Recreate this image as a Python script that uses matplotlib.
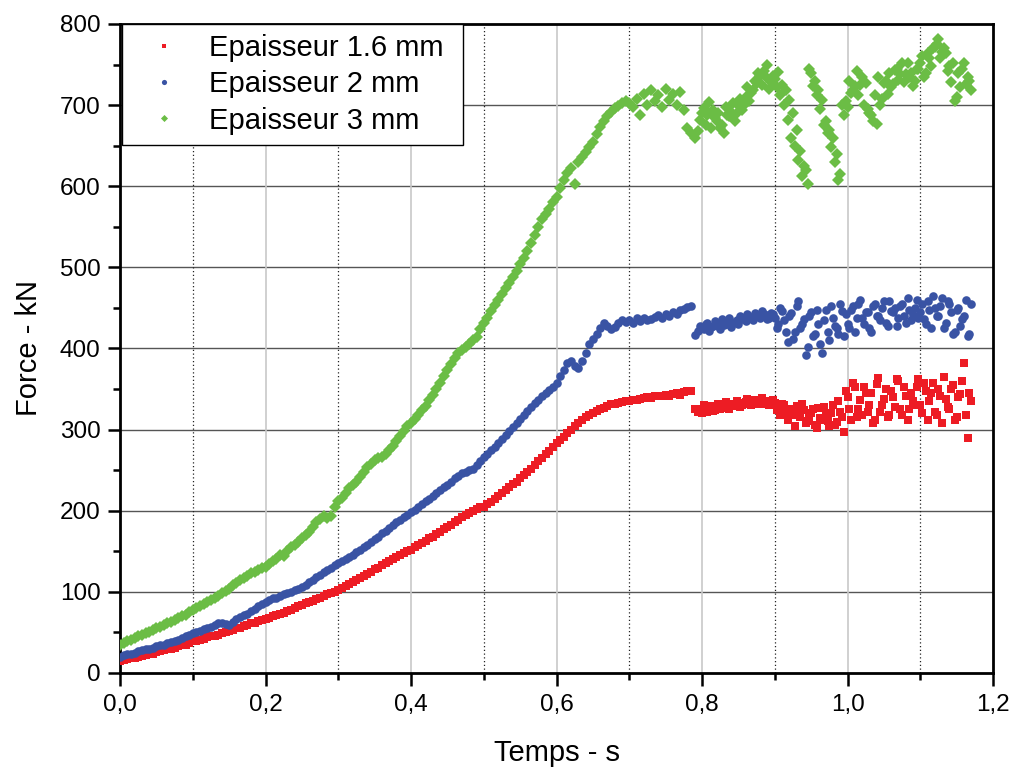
import numpy as np
import matplotlib
matplotlib.use('Agg')
import matplotlib.pyplot as plt
from matplotlib.ticker import MultipleLocator, FixedLocator, FixedFormatter

# Force readings (kN), one value every 5 ms, rows of 0.1 s
force_16mm = [
    15, 16, 17, 18, 19, 20, 21, 22, 23, 24, 26, 27, 28, 29, 30, 31, 33, 34, 35, 37,
    39, 40, 41, 42, 44, 45, 46, 47, 49, 50, 52, 53, 55, 56, 58, 59, 61, 62, 64, 65,
    67, 68, 70, 71, 73, 74, 76, 78, 80, 82, 84, 86, 88, 89, 91, 93, 95, 97, 99, 100,
    102, 105, 107, 110, 112, 115, 117, 120, 122, 125, 128, 130, 133, 135, 138, 140, 143, 145, 148, 150,
    152, 155, 158, 160, 163, 166, 168, 171, 174, 177, 180, 183, 186, 189, 192, 195, 197, 200, 202, 204,
    205, 208, 211, 214, 218, 222, 226, 229, 233, 236, 240, 244, 248, 252, 256, 261, 265, 270, 274, 278,
    283, 287, 291, 296, 300, 304, 308, 312, 315, 318, 320, 323, 325, 327, 329, 331, 332, 333, 334, 335,
    335, 337, 336, 338, 339, 340, 339, 341, 342, 341, 343, 342, 344, 345, 343, 346, 347, 348, 326, 322,
    321, 325, 327, 323, 328, 326, 330, 327, 331, 329, 333, 330, 334, 331, 336, 333, 337, 332, 335, 334,
    333, 328, 331, 322, 326, 318, 329, 315, 324, 310, 320, 306, 327, 312, 318, 304, 330, 309, 322, 297,
    340, 312, 352, 325, 318, 345, 330, 308, 356, 322, 338, 315, 348, 328, 360, 318, 342, 326, 335, 352,
    330, 358, 312, 345, 322, 350, 308, 338, 326, 355, 315, 344, 382, 290, 335,
]

force_2mm = [
    20, 22, 23, 24, 25, 27, 28, 29, 30, 31, 33, 34, 35, 37, 38, 39, 41, 43, 45, 47,
    49, 51, 52, 54, 55, 57, 59, 61, 62, 60, 59, 63, 67, 69, 71, 73, 76, 79, 82, 85,
    88, 90, 92, 93, 95, 97, 98, 100, 102, 104, 106, 109, 112, 115, 118, 121, 124, 127, 130, 133,
    135, 138, 140, 143, 146, 149, 152, 155, 158, 161, 165, 168, 172, 175, 179, 182, 186, 189, 192, 195,
    198, 201, 205, 208, 212, 215, 218, 222, 225, 229, 232, 236, 240, 243, 246, 248, 250, 252, 256, 261,
    266, 270, 275, 279, 284, 288, 293, 298, 303, 308, 313, 318, 323, 328, 333, 337, 341, 345, 349, 352,
    358, 366, 374, 382, 384, 379, 376, 384, 395, 405, 412, 418, 425, 431, 428, 424, 427, 432, 435, 433,
    435, 432, 437, 434, 438, 435, 436, 439, 441, 437, 443, 440, 445, 442, 447, 449, 451, 452, 416, 422,
    425, 430, 422, 428, 432, 424, 429, 431, 427, 433, 430, 436, 434, 438, 435, 440, 437, 442, 436, 444,
    438, 430, 446, 420, 440, 412, 452, 425, 436, 402, 445, 418, 430, 395, 448, 410, 438, 425, 455, 415,
    430, 448, 420, 455, 438, 445, 425, 452, 440, 435, 458, 428, 446, 450, 437, 455, 432, 448, 441, 460,
    445, 436, 458, 425, 450, 440, 462, 432, 455, 418, 447, 428, 440, 415, 455,
]

force_3mm = [
    35, 37, 39, 41, 43, 45, 47, 49, 51, 53, 55, 57, 59, 61, 63, 65, 68, 70, 72, 75,
    78, 80, 83, 85, 88, 90, 93, 95, 98, 101, 104, 108, 111, 114, 117, 120, 123, 125, 127, 129,
    131, 134, 138, 141, 145, 144, 150, 155, 158, 162, 166, 170, 174, 180, 186, 190, 193, 191, 194, 205,
    212, 216, 222, 228, 232, 236, 242, 248, 254, 258, 262, 265, 266, 270, 275, 280, 286, 292, 298, 304,
    308, 313, 318, 324, 329, 336, 343, 350, 358, 366, 374, 381, 388, 394, 398, 402, 406, 410, 414, 424,
    431, 438, 446, 453, 460, 467, 474, 481, 488, 496, 504, 512, 520, 530, 540, 550, 560, 566, 572, 580,
    587, 598, 608, 616, 622, 603, 630, 636, 642, 648, 655, 664, 673, 680, 686, 692, 696, 699, 703, 705,
    702, 698, 708, 688, 714, 700, 719, 705, 712, 698, 720, 706, 714, 700, 716, 694, 672, 665, 660, 668,
    690, 676, 704, 694, 680, 672, 665, 688, 692, 681, 700, 694, 710, 705, 718, 727, 736, 742, 750, 728,
    732, 741, 725, 718, 706, 690, 669, 644, 625, 603, 739, 730, 718, 706, 681, 669, 660, 640, 615, 688,
    698, 715, 723, 712, 735, 727, 690, 681, 677, 700, 727, 714, 722, 743, 731, 752, 738, 735, 723, 745,
    752, 735, 764, 748, 772, 781, 766, 764, 748, 752, 710, 722, 752, 735, 718,
]

# extra readings in the noisy plateau, halfway between the ones above (from 0.7975 s)
late_16mm = [
    326, 330, 322, 329, 324, 332, 328, 334, 326, 331, 335, 328, 333, 338, 330, 336, 331, 339, 334, 330,
    336, 324, 318, 330, 312, 326, 305, 320, 332, 308, 316, 325, 302, 314, 328, 310, 320, 306, 335, 316,
    348, 326, 358, 315, 336, 352, 322, 345, 312, 364, 330, 350, 318, 340, 362, 325, 352, 312, 345, 330,
    362, 320, 348, 335, 358, 318, 342, 365, 328, 350, 312, 340, 360, 318, 345,
]
late_2mm = [
    428, 424, 432, 426, 434, 428, 436, 430, 438, 432, 435, 440, 437, 442, 439, 444, 440, 446, 441, 438,
    442, 425, 450, 435, 408, 444, 420, 458, 430, 392, 440, 415, 448, 405, 435, 420, 452, 428, 418, 446,
    442, 425, 452, 438, 460, 430, 445, 420, 455, 440, 450, 432, 458, 445, 428, 452, 440, 462, 435, 450,
    438, 455, 430, 448, 465, 440, 452, 425, 458, 445, 420, 450, 436, 460, 418,
]
late_3mm = [
    682, 696, 688, 672, 684, 690, 676, 698, 686, 702, 690, 708, 700, 722, 715, 730, 740, 725, 735, 720,
    736, 722, 712, 700, 682, 660, 650, 632, 612, 620, 745, 724, 712, 695, 675, 665, 648, 630, 608, 700,
    705, 730, 718, 742, 725, 700, 695, 688, 712, 735, 708, 730, 740, 726, 745, 738, 728, 752, 740, 730,
    745, 760, 740, 758, 770, 775, 758, 770, 742, 728, 705, 740, 745, 726, 730,
]

SAMPLE_DT = 0.005  # s between readings
temps = np.arange(len(force_16mm)) * SAMPLE_DT
temps_late = 0.7975 + np.arange(len(late_16mm)) * SAMPLE_DT

labels = ['Epaisseur 1.6 mm', 'Epaisseur 2 mm', 'Epaisseur 3 mm']
x_ticks = [0.0, 0.2, 0.4, 0.6, 0.8, 1.0, 1.2]
x_ticklabels = ['0,0', '0,2', '0,4', '0,6', '0,8', '1,0', '1,2']
y_ticks = [0, 100, 200, 300, 400, 500, 600, 700, 800]

plt.rcParams['font.family'] = ['Liberation Sans', 'DejaVu Sans']

fig = plt.figure(figsize=(10.19, 7.73), dpi=100)
ax = fig.add_axes([0.1178, 0.1294, 0.8567, 0.8396])

series = [
    (force_16mm, late_16mm, 's', '#ED1C24', 5.4),
    (force_2mm, late_2mm, 'o', '#3953A4', 6.2),
    (force_3mm, late_3mm, 'D', '#6BBD45', 6.0),
]
for (vals, late, mk, col, ms), lab in zip(series, labels):
    ax.plot(temps, vals, mk, color=col, ms=ms, mew=0, label=lab, zorder=3)
    ax.plot(temps_late, late, mk, color=col, ms=ms, mew=0, zorder=3)

ax.set_xlim(0, 1.2)
ax.set_ylim(0, 800)

ax.xaxis.set_major_locator(FixedLocator(x_ticks))
ax.xaxis.set_major_formatter(FixedFormatter(x_ticklabels))
ax.xaxis.set_minor_locator(MultipleLocator(0.1))
ax.yaxis.set_major_locator(FixedLocator(y_ticks))
ax.yaxis.set_minor_locator(MultipleLocator(50))

# grid: dark horizontal, light vertical majors, dotted vertical minors
for y in y_ticks[1:-1]:
    ax.axhline(y, color='#555555', lw=1.0, zorder=1)
for x in x_ticks[1:-1]:
    ax.axvline(x, color='#c8c8c8', lw=1.2, zorder=1)
for x in [0.1, 0.3, 0.5, 0.7, 0.9, 1.1]:
    ax.axvline(x, color='#222222', lw=0.9, ls=(0, (1, 2)), zorder=1)

for s in ax.spines.values():
    s.set_linewidth(2.0)
ax.tick_params(which='both', direction='out', width=1.8, top=False, right=False)
ax.tick_params(which='major', length=9, labelsize=17.5)
ax.tick_params(which='minor', length=5)
ax.tick_params(axis='x', which='major', pad=6)
ax.tick_params(axis='y', which='major', pad=5)

ax.set_xlabel('Temps - s', fontsize=21, labelpad=17)
ax.set_ylabel('Force - kN', fontsize=21, labelpad=12)

leg = ax.legend(loc='upper left', bbox_to_anchor=(0.002, 1.0, 0.391, 0.0), mode='expand',
                borderaxespad=0, fontsize=21, frameon=True, fancybox=False,
                handlelength=2.2, handletextpad=0.45, labelspacing=0.28, borderpad=0.35,
                markerscale=0.6)
leg.get_frame().set_edgecolor('black')
leg.get_frame().set_linewidth(1.0)
leg.get_frame().set_alpha(1.0)
leg.set_zorder(5)

fig.savefig('out.png', dpi=100)
